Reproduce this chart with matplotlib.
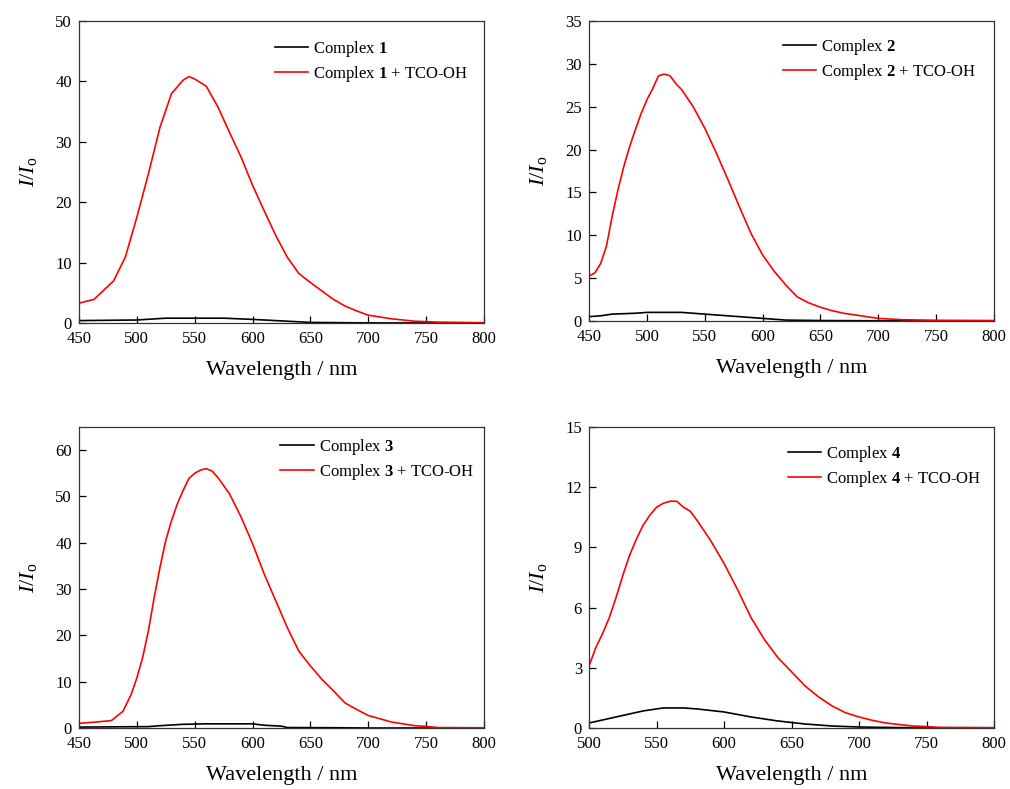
import matplotlib
matplotlib.use("Agg")
import matplotlib.pyplot as plt

plt.rcParams['font.family'] = ['Liberation Serif', 'DejaVu Serif']
plt.rcParams['mathtext.fontset'] = 'custom'
plt.rcParams['mathtext.rm'] = 'Liberation Serif'
plt.rcParams['mathtext.it'] = 'Liberation Serif:italic'
plt.rcParams['mathtext.bf'] = 'Liberation Serif:bold'

# ---- data ----
# complex 1
wl1_red = [450, 463, 480, 490, 500, 510, 520, 530, 540, 545, 550, 560, 570, 580, 590,
           600, 610, 620, 630, 640, 650, 660, 670, 680, 690, 700, 720, 740, 760, 800]
c1_red = [3.3, 3.9, 7.0, 10.9, 17.5, 24.7, 32.4, 38.0, 40.2, 40.8, 40.4, 39.2, 35.8, 31.6, 27.5,
          22.8, 18.6, 14.5, 10.9, 8.2, 6.7, 5.3, 3.9, 2.8, 2.0, 1.3, 0.7, 0.3, 0.15, 0.05]
wl1_blk = [450, 500, 525, 550, 575, 600, 630, 650, 700, 800]
c1_blk = [0.4, 0.5, 0.8, 0.8, 0.8, 0.6, 0.3, 0.1, 0.02, 0.0]

# complex 2
wl2_red = [450, 455, 460, 465, 470, 475, 480, 485, 490, 495, 500, 505, 510, 515, 520, 525,
           530, 540, 550, 560, 570, 580, 590, 600, 610, 620, 630, 640, 650, 660, 670, 680,
           690, 700, 720, 750, 800]
c2_red = [5.25, 5.6, 6.7, 8.7, 12.2, 15.3, 18.0, 20.3, 22.3, 24.2, 25.8, 27.1, 28.6, 28.8, 28.6, 27.7,
          27.0, 25.0, 22.5, 19.6, 16.5, 13.3, 10.2, 7.7, 5.8, 4.2, 2.8, 2.1, 1.6, 1.2, 0.9, 0.7,
          0.5, 0.3, 0.15, 0.08, 0.05]
wl2_blk = [450, 460, 470, 490, 500, 530, 540, 560, 580, 600, 620, 650, 700, 800]
c2_blk = [0.5, 0.6, 0.8, 0.9, 1.0, 1.0, 0.9, 0.7, 0.5, 0.3, 0.1, 0.05, 0.02, 0.0]

# complex 3
wl3_red = [450, 465, 478, 488, 495, 500, 505, 510, 515, 520, 525, 530, 535, 540, 545, 550,
           555, 560, 565, 570, 580, 590, 600, 610, 620, 630, 640, 650, 660, 670, 680, 690,
           700, 710, 720, 730, 740, 750, 760, 800]
c3_red = [1.0, 1.3, 1.6, 3.6, 7.2, 10.8, 15.2, 21.0, 28.2, 34.7, 40.5, 44.8, 48.4, 51.3, 53.9, 55.0,
          55.7, 56.0, 55.5, 54.1, 50.6, 45.6, 39.8, 33.3, 27.5, 21.7, 16.6, 13.4, 10.5, 8.0, 5.4, 4.0,
          2.7, 2.0, 1.3, 0.9, 0.5, 0.35, 0.1, 0.05]
wl3_blk = [450, 510, 520, 540, 560, 600, 610, 625, 630, 680, 700, 800]
c3_blk = [0.2, 0.3, 0.5, 0.8, 0.9, 0.9, 0.6, 0.4, 0.1, 0.05, 0.0, 0.0]

# complex 4
wl4_red = [500, 505, 510, 515, 520, 525, 530, 535, 540, 545, 550, 555, 560, 565, 570, 575,
           580, 590, 600, 610, 620, 630, 640, 650, 660, 670, 680, 690, 700, 710, 720, 730,
           740, 750, 760, 800]
c4_red = [3.1, 4.0, 4.7, 5.5, 6.5, 7.6, 8.6, 9.4, 10.1, 10.6, 11.0, 11.2, 11.3, 11.3, 11.0, 10.8,
          10.35, 9.35, 8.2, 6.9, 5.5, 4.4, 3.5, 2.8, 2.1, 1.55, 1.1, 0.76, 0.55, 0.38, 0.25, 0.17,
          0.1, 0.07, 0.03, 0.02]
wl4_blk = [500, 520, 540, 555, 570, 580, 600, 620, 640, 660, 680, 700, 730, 800]
c4_blk = [0.25, 0.55, 0.85, 1.0, 1.0, 0.95, 0.8, 0.55, 0.35, 0.2, 0.1, 0.05, 0.02, 0.0]

panels = [
    ('1', wl1_blk, c1_blk, wl1_red, c1_red, (450, 800), (0, 50), range(0, 51, 10)),
    ('2', wl2_blk, c2_blk, wl2_red, c2_red, (450, 800), (0, 35), range(0, 36, 5)),
    ('3', wl3_blk, c3_blk, wl3_red, c3_red, (450, 800), (0, 65), range(0, 61, 10)),
    ('4', wl4_blk, c4_blk, wl4_red, c4_red, (500, 800), (0, 15), range(0, 16, 3)),
]

# axes rectangles in figure fractions (left, bottom, width, height)
rects = [
    (0.0782, 0.5906, 0.401, 0.3828),
    (0.5832, 0.5932, 0.401, 0.3802),
    (0.0782, 0.0773, 0.401, 0.3815),
    (0.5832, 0.0773, 0.401, 0.3815),
]
legend_anchor = [(0.467, 0.962), (0.462, 0.968), (0.481, 0.988), (0.474, 0.965)]

fig = plt.figure(figsize=(10.1, 7.89), dpi=100)

for (num, xb, yb, xr, yr, xl, yl, yt), rect, anc in zip(panels, rects, legend_anchor):
    ax = fig.add_axes(rect)
    ax.plot(xb, yb, color='black', lw=1.2, label='Complex $\\mathbf{%s}$' % num)
    ax.plot(xr, yr, color='red', lw=1.2, label='Complex $\\mathbf{%s}$ + TCO-OH' % num)
    ax.set_xlim(*xl)
    ax.set_ylim(*yl)
    ax.set_xticks(range(xl[0], xl[1] + 1, 50))
    ax.set_yticks(list(yt))
    ax.tick_params(axis='x', pad=6)
    ax.tick_params(axis='y', pad=5)
    ax.tick_params(direction='in', length=5, width=0.9, labelsize=12,
                   top=False, right=False)
    for sp in ax.spines.values():
        sp.set_linewidth(0.9)
        sp.set_color('#333333')
    ax.set_xlabel('Wavelength / nm', fontsize=16, labelpad=10)
    ax.set_ylabel('$I/I_\\mathrm{o}$', fontsize=16, labelpad=12)
    ax.legend(loc='upper left', bbox_to_anchor=anc, frameon=False, fontsize=12,
              handlelength=2.0, handletextpad=0.3, labelspacing=0.3, borderaxespad=0)

plt.savefig('out.png', dpi=100)
